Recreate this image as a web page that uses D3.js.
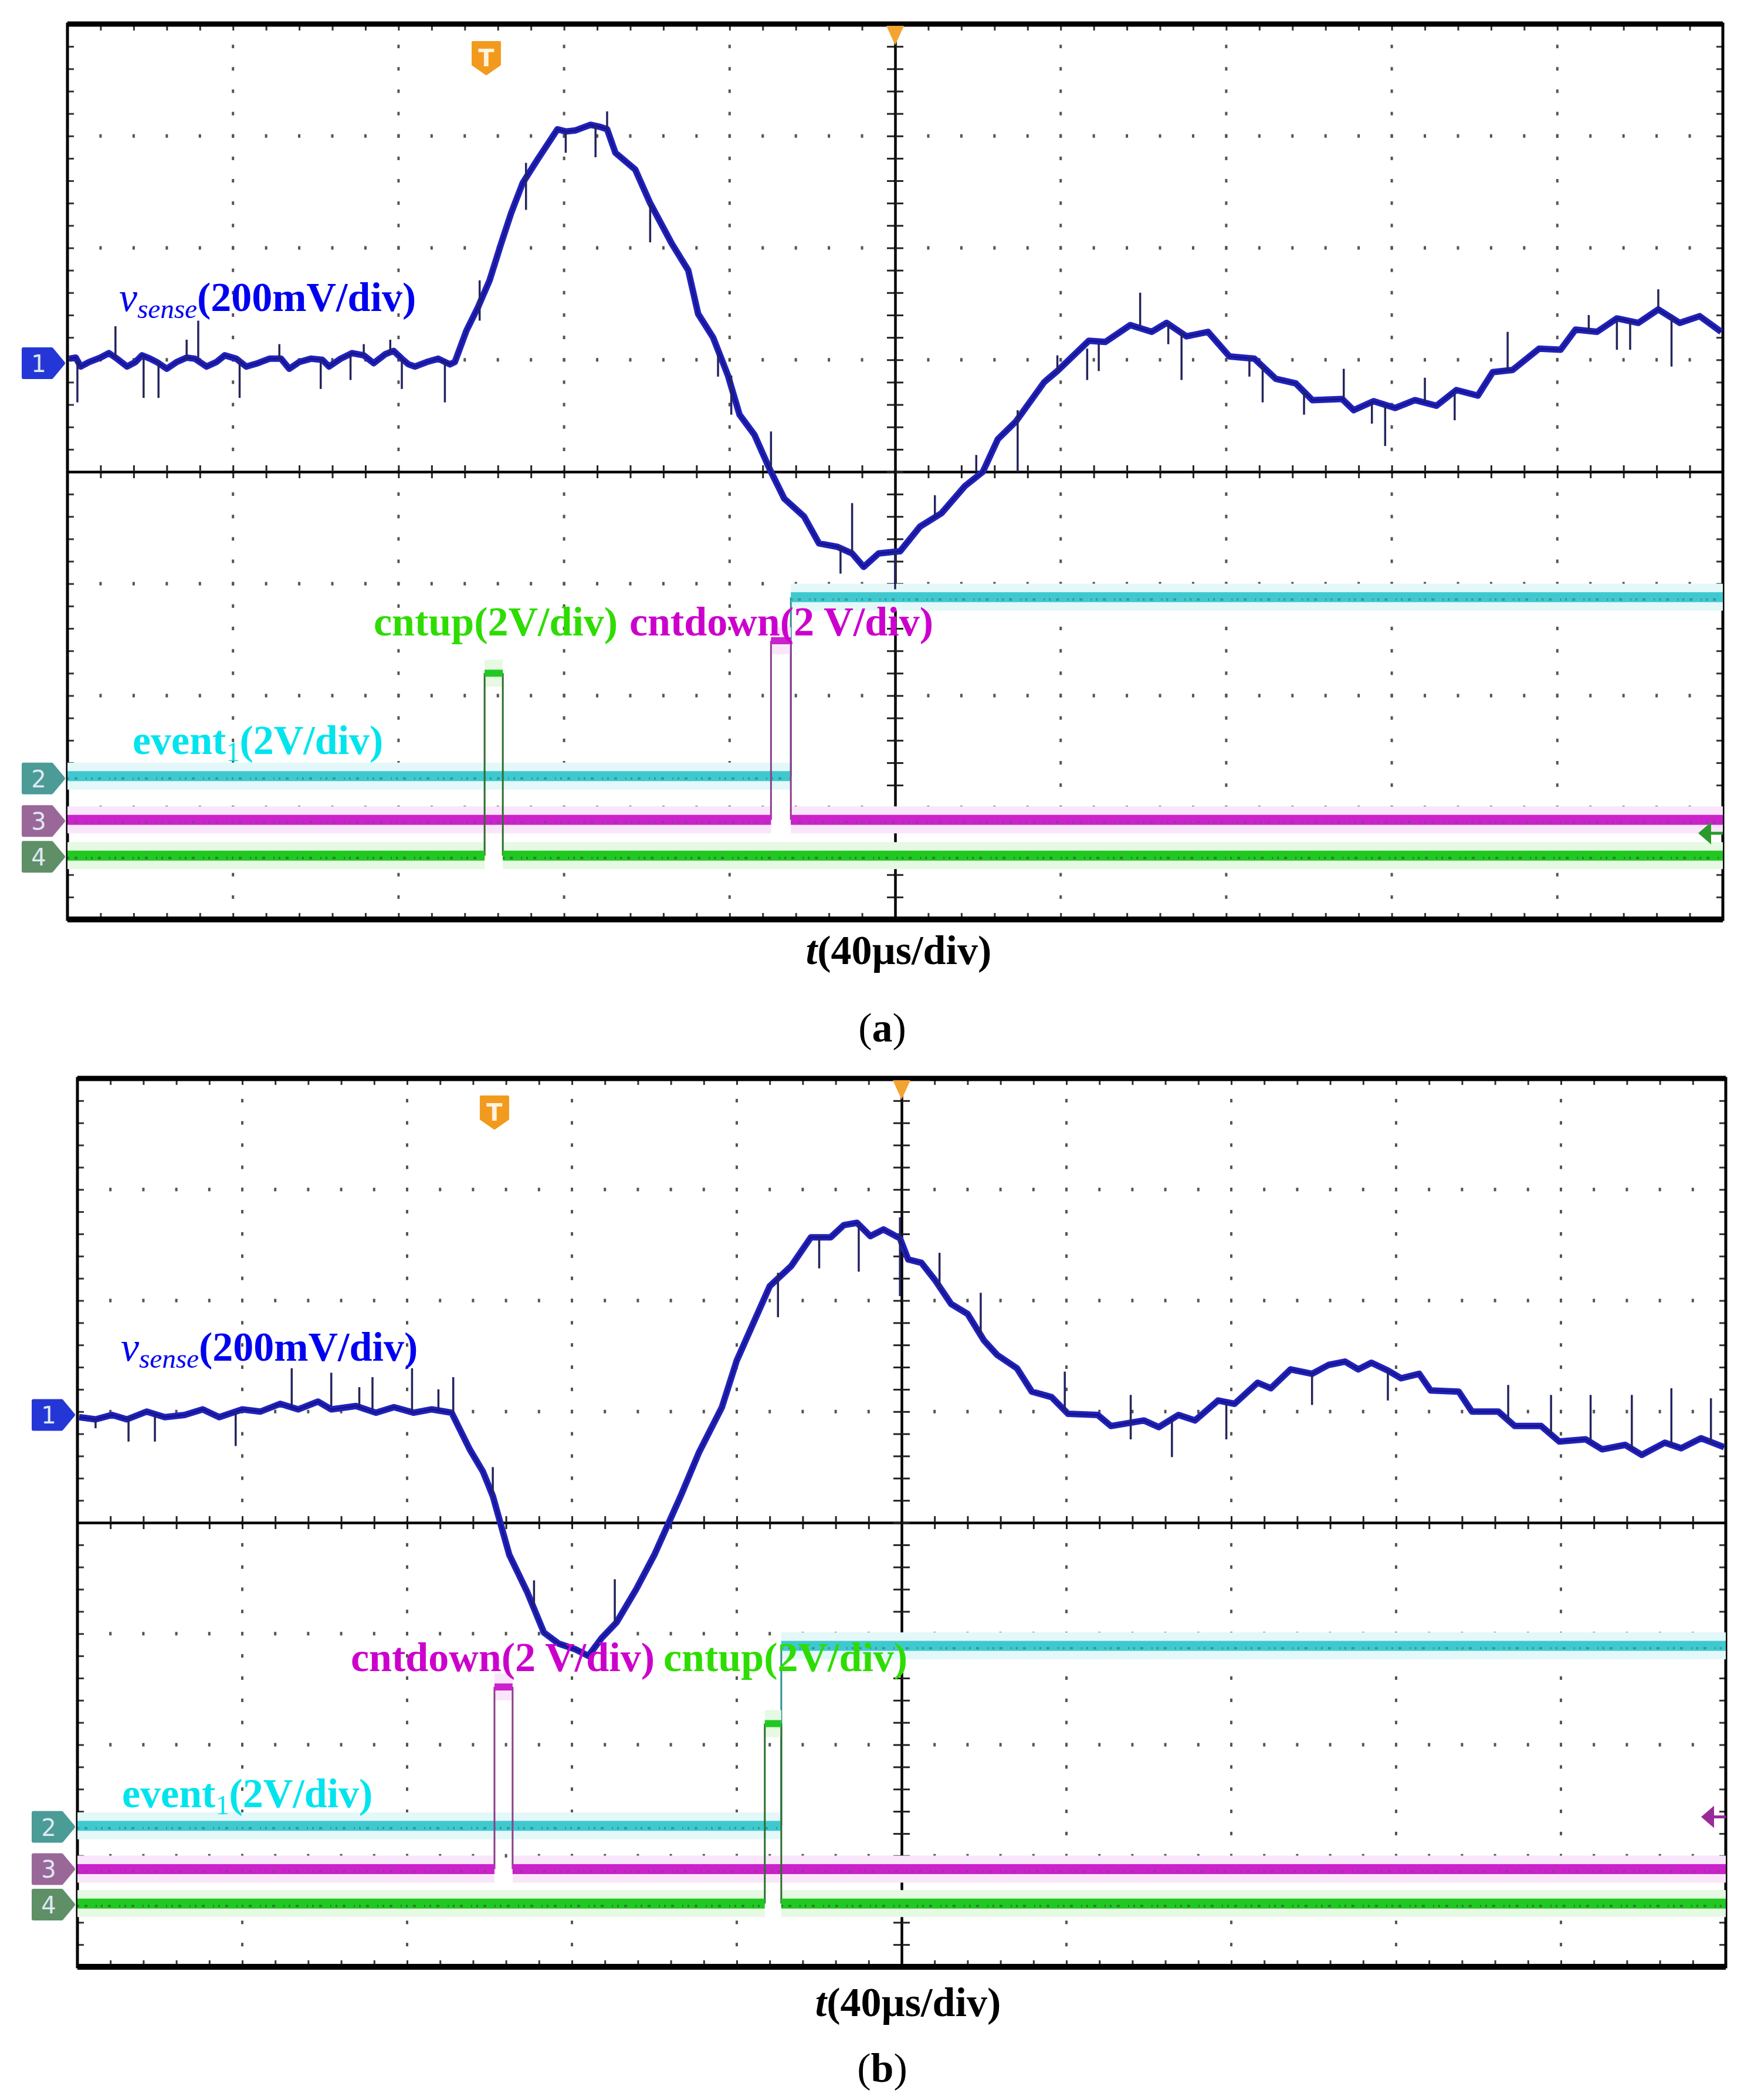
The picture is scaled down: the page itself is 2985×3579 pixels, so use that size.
<!DOCTYPE html>
<html><head><meta charset="utf-8">
<script src="https://cdn.jsdelivr.net/npm/d3@7"></script>
<style>html,body{margin:0;padding:0;background:#fff;} svg{display:block;}</style>
</head><body>
<script>
// ---------------- DATA (time in divisions 0..10, amplitude in divisions -4..4) ----------------
const divisionsX = [0,1,2,3,4,5,6,7,8,9,10];
const divisionsY = [-4,-3,-2,-1,0,1,2,3,4];
const channelNames = ["1","2","3","4"];
const channelOffsets = [0.97, -2.74, -3.12, -3.44];
const triggerTime = 2.53;
const triggerMarkYA = -3.23;
const triggerMarkYB = -2.65;

const vsenseA = [[0.01,1.01],[0.05,1.02],[0.08,0.94],[0.13,0.98],[0.20,1.02],[0.25,1.06],[0.29,1.02],[0.36,0.94],[0.41,0.98],[0.45,1.04],[0.50,1.01],[0.54,0.98],[0.60,0.92],[0.66,0.98],[0.72,1.02],[0.77,1.01],[0.84,0.94],[0.90,0.98],[0.95,1.04],[1.02,1.01],[1.08,0.94],[1.15,0.97],[1.22,1.01],[1.29,1.01],[1.34,0.92],[1.40,0.98],[1.47,1.01],[1.54,1.00],[1.58,0.94],[1.65,1.01],[1.72,1.06],[1.79,1.04],[1.85,0.97],[1.92,1.05],[1.97,1.08],[2.02,1.01],[2.06,0.96],[2.10,0.94],[2.17,0.98],[2.24,1.01],[2.31,0.96],[2.34,0.98],
 [2.41,1.26],[2.48,1.47],[2.55,1.71],[2.62,2.04],[2.68,2.31],[2.75,2.58],[2.84,2.79],[2.96,3.06],[3.01,3.04],[3.07,3.05],[3.16,3.10],[3.22,3.08],[3.26,3.06],[3.31,2.85],[3.43,2.70],[3.52,2.40],[3.65,2.04],[3.75,1.80],[3.81,1.41],[3.90,1.20],[3.99,0.86],[4.06,0.51],[4.15,0.33],[4.24,0.03],[4.33,-0.24],[4.45,-0.40],[4.54,-0.64],[4.65,-0.67],[4.74,-0.73],[4.81,-0.85],[4.90,-0.73],[5.03,-0.71],[5.15,-0.49],[5.28,-0.37],[5.42,-0.13],[5.53,0.00],[5.62,0.29],[5.73,0.45],[5.90,0.80],[5.98,0.90],[6.17,1.17],[6.27,1.16],[6.42,1.31],[6.55,1.25],[6.64,1.33],[6.76,1.21],[6.89,1.25],[7.02,1.03],[7.17,1.01],[7.30,0.83],[7.42,0.79],[7.52,0.64],[7.70,0.65],[7.77,0.55],[7.89,0.63],[8.02,0.57],[8.14,0.64],[8.27,0.59],[8.39,0.73],[8.52,0.68],[8.61,0.89],[8.73,0.91],[8.89,1.10],[9.02,1.09],[9.11,1.27],[9.24,1.25],[9.36,1.37],[9.49,1.33],[9.61,1.45],[9.74,1.33],[9.86,1.39],[9.99,1.25]];

const spikesA = [[0.06,1.0,0.62],[0.29,1.02,1.30],[0.46,1.02,0.66],[0.55,0.98,0.66],[0.72,1.0,1.18],[0.79,1.0,1.35],[1.04,1.0,0.66],[1.28,1.0,1.14],[1.53,1.0,0.74],[1.71,1.04,0.82],[1.79,1.04,1.14],[1.95,1.06,1.18],[2.02,1.0,0.74],[2.28,1.0,0.62],
 [2.49,1.71,1.35],[2.77,2.76,2.34],[3.01,3.05,2.85],[3.19,3.10,2.81],[3.26,3.06,3.22],[3.52,2.40,2.05],[3.93,1.05,0.85],[4.01,0.86,0.51],[4.25,0.03,0.36],[4.67,-0.67,-0.91],[4.74,-0.73,-0.28],[5.00,-0.71,-1.05],[5.24,-0.40,-0.21],[5.49,0.0,0.15],[5.74,0.55,0.0],[5.98,0.90,1.04],[6.16,1.10,0.82],[6.23,1.14,0.90],[6.48,1.30,1.60],[6.65,1.33,1.14],[6.73,1.25,0.82],[7.14,1.02,0.85],[7.22,0.95,0.62],[7.47,0.72,0.51],[7.71,0.65,0.92],[7.88,0.62,0.43],[7.96,0.60,0.23],[8.20,0.62,0.84],[8.38,0.70,0.46],[8.70,0.90,1.25],[9.19,1.25,1.40],[9.36,1.35,1.09],[9.44,1.35,1.09],[9.61,1.45,1.63],[9.69,1.40,0.94]];

const event1A  = [[0,-2.72],[4.37,-2.72],[4.37,-1.12],[10,-1.12]];
const cntdownA = [[0,-3.11],[4.25,-3.11],[4.25,-1.51],[4.37,-1.51],[4.37,-3.11],[10,-3.11]];
const cntupA   = [[0,-3.43],[2.52,-3.43],[2.52,-1.80],[2.63,-1.80],[2.63,-3.43],[10,-3.43]];

const vsenseB = [[0.01,0.95],[0.11,0.93],[0.21,0.97],[0.30,0.93],[0.42,1.00],[0.53,0.95],[0.65,0.97],[0.76,1.02],[0.86,0.95],[1.00,1.02],[1.11,1.00],[1.23,1.07],[1.34,1.02],[1.46,1.09],[1.54,1.02],[1.69,1.05],[1.81,0.99],[1.92,1.04],[2.04,0.99],[2.15,1.02],[2.27,0.99],
 [2.38,0.66],[2.46,0.46],[2.52,0.24],[2.62,-0.29],[2.73,-0.63],[2.83,-0.99],[2.92,-1.09],[3.02,-1.14],[3.10,-1.20],[3.18,-1.04],[3.27,-0.90],[3.39,-0.60],[3.50,-0.29],[3.66,0.24],[3.77,0.63],[3.91,1.04],[4.00,1.46],[4.20,2.13],[4.33,2.31],[4.45,2.57],[4.57,2.57],[4.65,2.68],[4.73,2.70],[4.81,2.58],[4.89,2.64],[4.99,2.56],[5.04,2.37],[5.12,2.34],[5.20,2.19],[5.30,1.97],[5.40,1.88],[5.50,1.64],[5.58,1.51],[5.70,1.39],[5.79,1.18],[5.91,1.13],[6.01,0.98],[6.19,0.97],[6.27,0.87],[6.47,0.92],[6.56,0.86],[6.68,0.97],[6.78,0.92],[6.92,1.10],[7.02,1.07],[7.16,1.26],[7.24,1.21],[7.36,1.38],[7.49,1.34],[7.59,1.42],[7.69,1.45],[7.77,1.38],[7.85,1.44],[7.95,1.37],[8.03,1.30],[8.14,1.34],[8.21,1.19],[8.38,1.18],[8.46,1.00],[8.62,1.00],[8.72,0.87],[8.88,0.87],[8.99,0.73],[9.15,0.75],[9.25,0.66],[9.39,0.70],[9.49,0.61],[9.63,0.72],[9.73,0.67],[9.85,0.76],[9.99,0.68]];

const spikesB = [[0.11,0.93,0.85],[0.31,0.95,0.73],[0.47,0.97,0.73],[0.96,1.0,0.69],[1.30,1.05,1.39],[1.54,1.05,1.35],[1.71,1.05,1.22],[1.79,1.02,1.31],[2.03,1.0,1.39],[2.19,1.02,1.20],[2.28,0.99,1.31],[2.52,0.24,0.50],[2.77,-0.75,-0.52],[3.26,-0.90,-0.51],
 [4.25,2.25,1.85],[4.50,2.57,2.29],[4.74,2.69,2.26],[4.99,2.75,2.04],[5.23,2.10,2.43],[5.48,1.68,2.07],[5.99,1.0,1.36],[6.39,1.15,0.75],[6.64,0.92,0.59],[6.97,1.08,0.75],[7.49,1.34,1.06],[7.95,1.37,1.10],[8.68,0.90,1.24],[8.94,0.80,1.15],[9.18,0.74,1.15],[9.43,0.66,1.15],[9.67,0.70,1.21],[9.91,0.72,1.12]];

const event1B  = [[0,-2.73],[4.27,-2.73],[4.27,-1.11],[10,-1.11]];
const cntdownB = [[0,-3.12],[2.53,-3.12],[2.53,-1.48],[2.64,-1.48],[2.64,-3.12],[10,-3.12]];
const cntupB   = [[0,-3.43],[4.17,-3.43],[4.17,-1.81],[4.27,-1.81],[4.27,-3.43],[10,-3.43]];

// ---------------- DRAWING ----------------
const W = 2985, H = 3579;
const SERIF = "'Liberation Serif','Times New Roman',Times,serif";
const svg = d3.select("body").append("svg").attr("width", W).attr("height", H);
svg.append("rect").attr("width", W).attr("height", H).attr("fill", "#fff");

const minorX = d3.range(0, 51).map(i => +(i * 0.2).toFixed(2));
const minorY = d3.range(-20, 21).map(i => +(i * 0.2).toFixed(2));

function drawPanel(cfg) {
  const x = d3.scaleLinear().domain([0, 10]).range([cfg.left, cfg.right]);
  const y = d3.scaleLinear().domain([-4, 4]).range([cfg.bottom, cfg.top]);
  const g = svg.append("g");

  // grid dots
  const grid = g.append("g").attr("fill", "#555");
  divisionsX.filter(d => d > 0 && d < 10 && d !== 5).forEach(gx => {
    grid.selectAll(null).data(minorY.filter(v => v > -4 && v < 4)).join("rect")
      .attr("x", x(gx) - 2).attr("y", d => y(d) - 3).attr("width", 4).attr("height", 6);
  });
  divisionsY.filter(d => d > -4 && d < 4 && d !== 0).forEach(gy => {
    grid.selectAll(null).data(minorX.filter(v => v > 0 && v < 10)).join("rect")
      .attr("x", d => x(d) - 2).attr("y", y(gy) - 3).attr("width", 4).attr("height", 6);
  });

  // frame ticks (inward)
  const tickStyle = sel => { sel.select(".domain").remove(); sel.selectAll(".tick line").attr("stroke", "#333").attr("stroke-width", 3); };
  g.append("g").attr("transform", `translate(0,${cfg.bottom})`).call(d3.axisTop(x).tickValues(minorX).tickSize(11).tickFormat("")).call(tickStyle);
  g.append("g").attr("transform", `translate(0,${cfg.top})`).call(d3.axisBottom(x).tickValues(minorX).tickSize(11).tickFormat("")).call(tickStyle);
  g.append("g").attr("transform", `translate(${cfg.left},0)`).call(d3.axisRight(y).tickValues(minorY).tickSize(11).tickFormat("")).call(tickStyle);
  g.append("g").attr("transform", `translate(${cfg.right},0)`).call(d3.axisLeft(y).tickValues(minorY).tickSize(11).tickFormat("")).call(tickStyle);

  // center cross with ticks on both sides
  const crossStyle = sel => { sel.select(".domain").attr("stroke", "#000").attr("stroke-width", 4); sel.selectAll(".tick line").attr("stroke", "#222").attr("stroke-width", 3); };
  g.append("g").attr("transform", `translate(0,${y(0)})`).call(d3.axisBottom(x).tickValues(minorX).tickSizeInner(11).tickSizeOuter(0).tickFormat("")).call(crossStyle);
  g.append("g").attr("transform", `translate(0,${y(0)})`).call(d3.axisTop(x).tickValues(minorX).tickSizeInner(11).tickSizeOuter(0).tickFormat("")).call(crossStyle);
  g.append("g").attr("transform", `translate(${x(5)},0)`).call(d3.axisLeft(y).tickValues(minorY).tickSizeInner(14).tickSizeOuter(0).tickFormat("")).call(crossStyle);
  g.append("g").attr("transform", `translate(${x(5)},0)`).call(d3.axisRight(y).tickValues(minorY).tickSizeInner(14).tickSizeOuter(0).tickFormat("")).call(crossStyle);

  // frame
  g.append("rect").attr("x", cfg.left).attr("y", cfg.top).attr("width", cfg.right - cfg.left).attr("height", cfg.bottom - cfg.top)
    .attr("fill", "none").attr("stroke", "#000").attr("stroke-width", 5);
  g.append("line").attr("x1", cfg.left).attr("x2", cfg.right).attr("y1", cfg.top).attr("y2", cfg.top).attr("stroke", "#000").attr("stroke-width", 9);
  g.append("line").attr("x1", cfg.left).attr("x2", cfg.right).attr("y1", cfg.bottom).attr("y2", cfg.bottom).attr("stroke", "#000").attr("stroke-width", 10);

  // digital channels
  function digital(pts, col, halo, edge) {
    const dg = g.append("g");
    const segs = d3.pairs(pts);
    dg.selectAll(null).data(segs.filter(s => s[0][1] === s[1][1])).join("line")
      .attr("x1", s => x(s[0][0])).attr("x2", s => x(s[1][0])).attr("y1", s => y(s[0][1])).attr("y2", s => y(s[1][1]))
      .attr("stroke", halo).attr("stroke-width", 46);
    dg.selectAll(null).data(segs.filter(s => s[0][1] !== s[1][1])).join("line")
      .attr("x1", s => x(s[0][0])).attr("x2", s => x(s[1][0])).attr("y1", s => y(s[0][1])).attr("y2", s => y(s[1][1]))
      .attr("stroke", edge).attr("stroke-width", 3);
    dg.selectAll(null).data(segs.filter(s => s[0][1] === s[1][1])).join("line")
      .attr("x1", s => x(s[0][0])).attr("x2", s => x(s[1][0])).attr("y1", s => y(s[0][1])).attr("y2", s => y(s[1][1]))
      .attr("stroke", col).attr("stroke-width", s => (s[1][0] - s[0][0]) < 0.3 ? 12 : 17);
    dg.selectAll(null).data(segs.filter(s => s[0][1] === s[1][1] && (s[1][0] - s[0][0]) >= 0.3)).join("line")
      .attr("x1", s => x(s[0][0])).attr("x2", s => x(s[1][0])).attr("y1", s => y(s[0][1]) + 4).attr("y2", s => y(s[1][1]) + 4)
      .attr("stroke", edge).attr("stroke-width", 4).attr("stroke-dasharray", "3 9 5 14 2 7").attr("opacity", 0.8);
  }
  digital(cfg.event1, "#3fc9cf", "#e4f8f9", "#2f8f93");
  digital(cfg.cntdown, "#cc22cc", "#fae6fa", "#8a3f8a");
  digital(cfg.cntup, "#22c822", "#e6f9e3", "#2c6e2c");

  // vsense trace
  const line = d3.line().x(d => x(d[0])).y(d => y(d[1]));
  g.append("path").datum(cfg.vsense).attr("d", line).attr("fill", "none").attr("stroke", "#2222bb").attr("stroke-width", 11).attr("stroke-linejoin", "round");
  g.append("path").datum(cfg.vsense).attr("d", line).attr("fill", "none").attr("stroke", "#0e0e7a").attr("stroke-width", 3).attr("opacity", 0.7);
  g.selectAll(null).data(cfg.spikes).join("line")
    .attr("x1", d => x(d[0])).attr("x2", d => x(d[0])).attr("y1", d => y(d[1])).attr("y2", d => y(d[2]))
    .attr("stroke", "#24245e").attr("stroke-width", 3.5);

  // channel markers
  const markerCols = ["#2437d6", "#4b9b96", "#9a6898", "#5f8f66"];
  const mk = g.selectAll(null).data(channelOffsets).join("g").attr("transform", d => `translate(${cfg.left - 75},${y(d)})`);
  mk.append("path").attr("d", "M0,-24 H48 L68,0 L48,24 H0 Z").attr("fill", (d, i) => markerCols[i]).attr("stroke", (d, i) => markerCols[i]).attr("stroke-width", 6).attr("stroke-linejoin", "round");
  mk.append("text").attr("x", 26).attr("y", 15).attr("text-anchor", "middle").attr("font-family", "'DejaVu Sans',sans-serif").attr("font-size", 40).attr("fill", "#dfe8f4")
    .text((d, i) => channelNames[i]);

  // trigger position marker "T"
  const tg = g.append("g").attr("transform", `translate(${x(triggerTime)},${cfg.top + 58})`);
  tg.append("path").attr("d", "M-23,-27 H23 V11 L0,27 L-23,11 Z").attr("fill", "#f29a1e").attr("stroke", "#f29a1e").attr("stroke-width", 4).attr("stroke-linejoin", "round");
  tg.append("text").attr("y", 14).attr("text-anchor", "middle").attr("font-family", "'DejaVu Sans',sans-serif").attr("font-weight", "bold").attr("font-size", 40).attr("fill", "#fff3dc").text("T");
  // top centre trigger-time arrow
  g.append("path").attr("d", `M${x(5) - 15},${cfg.top + 3} L${x(5) + 15},${cfg.top + 3} L${x(5)},${cfg.top + 36} Z`).attr("fill", "#f2a431");
  // right trigger-level marker
  const ry = y(cfg.trigY);
  g.append("path").attr("d", `M${cfg.right - 42},${ry} L${cfg.right - 20},${ry - 19} L${cfg.right - 20},${ry + 19} Z`).attr("fill", cfg.trigCol);
  g.append("line").attr("x1", cfg.right - 22).attr("x2", cfg.right).attr("y1", ry).attr("y2", ry).attr("stroke", cfg.trigCol).attr("stroke-width", 5);

  // labels
  const L = cfg.labels;
  const t1 = svg.append("text").attr("x", L.vsense[0]).attr("y", L.vsense[1]).attr("font-family", SERIF).attr("font-size", 70).attr("fill", "#0000f0");
  t1.append("tspan").attr("font-style", "italic").text("v");
  t1.append("tspan").attr("font-style", "italic").attr("font-size", 47).attr("dy", 12).text("sense");
  t1.append("tspan").attr("font-weight", "bold").attr("dy", -12).text("(200mV/div)");

  const t2 = svg.append("text").attr("x", L.event1[0]).attr("y", L.event1[1]).attr("font-family", SERIF).attr("font-size", 70).attr("fill", "#00e4ee").attr("font-weight", "bold");
  t2.append("tspan").text("event");
  t2.append("tspan").attr("font-size", 46).attr("font-weight", "normal").attr("dy", 12).text("1");
  t2.append("tspan").attr("dy", -12).text("(2V/div)");

  svg.append("text").attr("x", L.cntup[0]).attr("y", L.cntup[1]).attr("font-family", SERIF).attr("font-size", 70).attr("font-weight", "bold").attr("fill", "#2edc00").text("cntup(2V/div)");
  svg.append("text").attr("x", L.cntdown[0]).attr("y", L.cntdown[1]).attr("font-family", SERIF).attr("font-size", 70).attr("font-weight", "bold").attr("fill", "#cc00cc").text("cntdown(2 V/div)");

  const t3 = svg.append("text").attr("x", L.tlabel[0]).attr("y", L.tlabel[1]).attr("text-anchor", "middle").attr("font-family", SERIF).attr("font-size", 70).attr("font-weight", "bold").attr("fill", "#000");
  t3.append("tspan").attr("font-style", "italic").text("t");
  t3.append("tspan").text("(40µs/div)");

  const t4 = svg.append("text").attr("x", L.caption[0]).attr("y", L.caption[1]).attr("text-anchor", "middle").attr("font-family", SERIF).attr("font-size", 70).attr("fill", "#000");
  t4.append("tspan").text("(");
  t4.append("tspan").attr("font-weight", "bold").text(cfg.caption);
  t4.append("tspan").text(")");
}

drawPanel({
  left: 115, right: 2937, top: 41, bottom: 1567,
  vsense: vsenseA, spikes: spikesA, event1: event1A, cntdown: cntdownA, cntup: cntupA,
  trigY: triggerMarkYA, trigCol: "#2a9a2a", caption: "a",
  labels: { vsense: [203, 530], event1: [226, 1285], cntup: [637, 1083], cntdown: [1073, 1083], tlabel: [1532, 1643], caption: [1504, 1775] }
});
drawPanel({
  left: 132, right: 2942, top: 1838, bottom: 3352,
  vsense: vsenseB, spikes: spikesB, event1: event1B, cntdown: cntdownB, cntup: cntupB,
  trigY: triggerMarkYB, trigCol: "#9a2a9a", caption: "b",
  labels: { vsense: [206, 2319], event1: [208, 3080], cntup: [1131, 2848], cntdown: [598, 2848], tlabel: [1548, 3436], caption: [1504, 3548] }
});
</script>
</body></html>
